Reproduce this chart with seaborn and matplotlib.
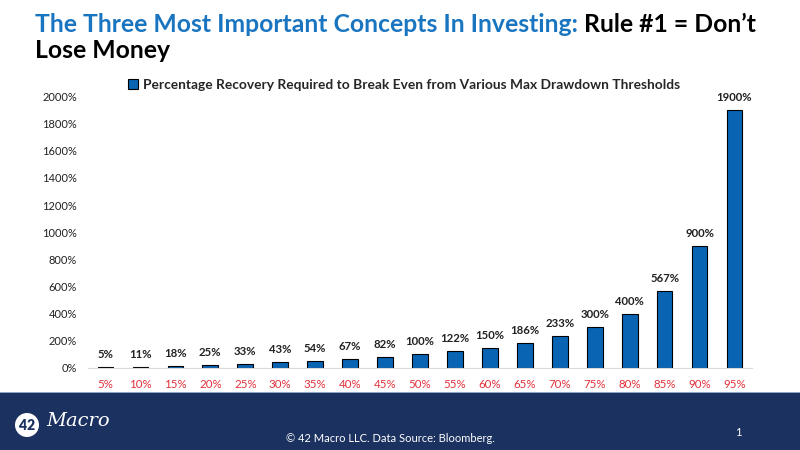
import matplotlib
matplotlib.use("Agg")
import matplotlib.pyplot as plt
import seaborn as sns
import pandas as pd
from matplotlib.patches import Rectangle, Ellipse

drawdowns = ["5%", "10%", "15%", "20%", "25%", "30%", "35%", "40%", "45%", "50%",
             "55%", "60%", "65%", "70%", "75%", "80%", "85%", "90%", "95%"]
recovery = [5, 11, 18, 25, 33, 43, 54, 67, 82, 100, 122, 150, 186, 233, 300, 400, 567, 900, 1900]
series_name = "Percentage Recovery Required to Break Even from Various Max Drawdown Thresholds"
yticks = [0, 200, 400, 600, 800, 1000, 1200, 1400, 1600, 1800, 2000]

sns.set_theme(style="white")
FONT = ["Lato", "DejaVu Sans"]
plt.rcParams["font.family"] = FONT

BLUE = "#0a64b4"
NAVY = "#1b3160"
RED = "#e0303a"

df = pd.DataFrame({"drawdown": drawdowns, "recovery": recovery, "series": series_name})

fig = plt.figure(figsize=(8, 4.5), dpi=100)
ax = fig.add_axes([88/800, 1-368/450, (752-88)/800, (368-96.5)/450])
sns.barplot(data=df, x="drawdown", y="recovery", hue="series", palette=[BLUE],
            saturation=1, width=0.45, edgecolor="black", linewidth=0.8, ax=ax, legend=True)
ax.set_xlim(-0.5, 18.5)
ax.set_ylim(0, 2000)
ax.set_yticks(yticks)
ax.set_yticklabels([f"{v}%" for v in yticks], fontsize=8, color="#222222")
ax.tick_params(axis="x", colors=RED, labelsize=8.3, length=0, pad=8)
ax.tick_params(axis="y", length=0, pad=8)
for lab in ax.get_xticklabels():
    lab.set_color(RED)
ax.set_xlabel("")
ax.set_ylabel("")
for s in ["top", "right", "left"]:
    ax.spines[s].set_visible(False)
ax.spines["bottom"].set_color("#d9d9d9")
ax.spines["bottom"].set_linewidth(0.8)
ax.grid(False)

for cont in ax.containers:
    ax.bar_label(cont, labels=[f"{v}%" for v in recovery], padding=5,
                 fontsize=8.2, fontweight="bold", color="#222222")

leg = ax.legend(loc="lower center", bbox_to_anchor=(0.476, 1.0), frameon=False,
                prop={"size": 9.9, "weight": "bold"}, handlelength=0.7, handleheight=0.7,
                handletextpad=0.4, borderaxespad=0.0)

# title
TS = 17.8
t1 = fig.text(35/800, 1-24/450, "The Three Most Important Concepts In Investing:",
              fontsize=TS, fontweight="bold", color="#1a75c0", va="center", ha="left")
fig.canvas.draw()
r = fig.canvas.get_renderer()
bb = t1.get_window_extent(r)
fig.text((bb.x1 + 6)/800, 1-24/450, "Rule #1 = Don\u2019t", fontsize=TS,
         fontweight="bold", color="black", va="center", ha="left")
fig.text(35/800, 1-51/450, "Lose Money", fontsize=TS, fontweight="bold",
         color="black", va="center", ha="left")

# footer band
fig.patches.append(Rectangle((0, 0), 1, 57/450, transform=fig.transFigure,
                             facecolor=NAVY, edgecolor="none", zorder=0))
fig.patches.append(Rectangle((0, 57/450), 1, 1.5/450, transform=fig.transFigure,
                             facecolor="#8fa6c8", edgecolor="none", zorder=0))
fig.patches.append(Ellipse((27/800, 1-425/450), 24/800, 24/450, transform=fig.transFigure,
                           facecolor="white", edgecolor="none", zorder=1))
fig.text(27/800, 1-425/450, "42", fontsize=10, fontweight="heavy", color=NAVY,
         ha="center", va="center")
fig.text(46/800, 1-421/450, "Macro", fontsize=14, fontstyle="italic", color="white",
         ha="left", va="center", family=["DejaVu Serif"])
fig.text(390/800, 1-438/450, "\u00a9 42 Macro LLC. Data Source: Bloomberg.", fontsize=8,
         color="white", ha="center", va="center")
fig.text(738/800, 1-432/450, "1", fontsize=8, color="white", ha="center", va="center")

fig.savefig("out.png", dpi=100)
